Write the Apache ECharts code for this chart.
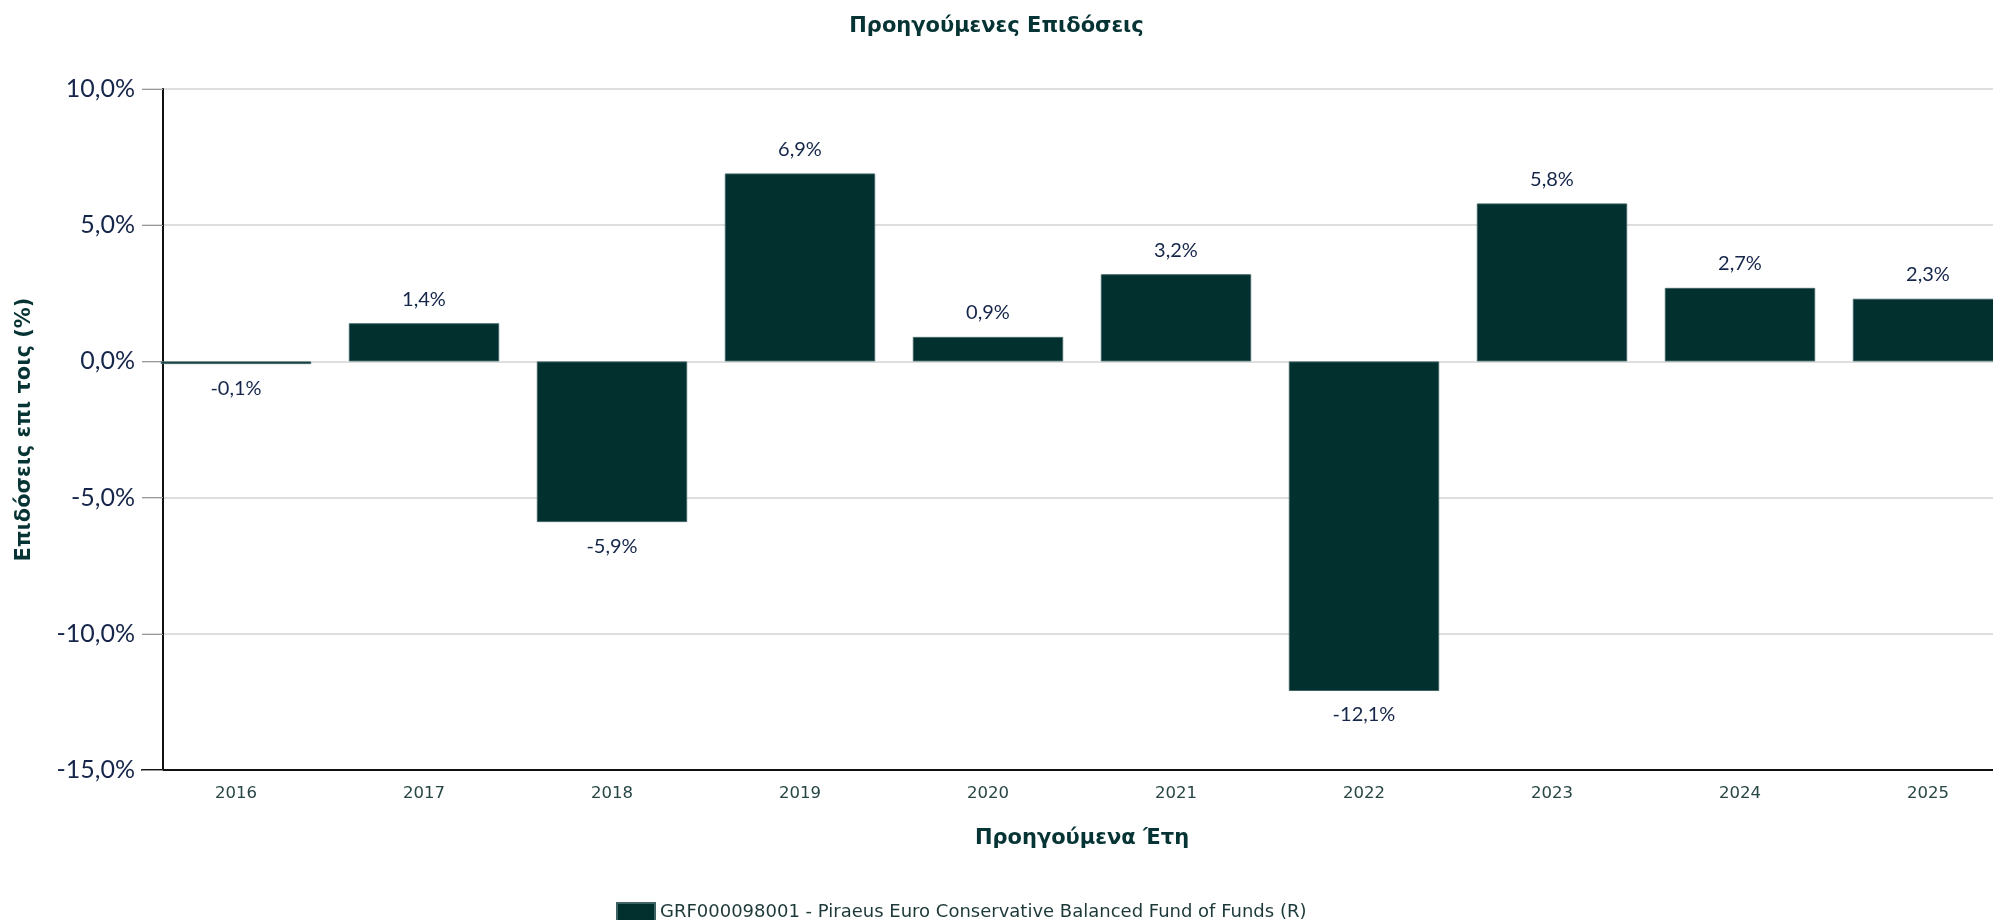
<!DOCTYPE html>
<html>
<head>
<meta charset="utf-8">
<script src="https://cdn.jsdelivr.net/npm/echarts@6/dist/echarts.min.js"></script>
<style>
  html, body { margin: 0; padding: 0; background: #fff; }
  #chart { width: 1993px; height: 920px; }
</style>
</head>
<body>
<div id="chart"></div>
<script>
// data
const years = ['2016', '2017', '2018', '2019', '2020', '2021', '2022', '2023', '2024', '2025'];
const returns = [-0.1, 1.4, -5.9, 6.9, 0.9, 3.2, -12.1, 5.8, 2.7, 2.3];
const seriesName = 'GRF000098001 - Piraeus Euro Conservative Balanced Fund of Funds (R)';

const barColor = '#02302f';
const darkTeal = '#063333';
const navy = '#16264a';

function pct(v) {
    return v.toFixed(1).replace('.', ',') + '%';
}

const chart = echarts.init(document.querySelector('#chart'));
chart.setOption({
    animation: false,
    title: {
        text: 'Προηγούμενες Επιδόσεις',
        left: 'center',
        top: 11,
        textStyle: {
            fontFamily: 'DejaVu Sans',
            fontWeight: 'bold',
            fontSize: 21,
            color: darkTeal
        }
    },
    legend: {
        left: 611,
        top: 897,
        itemWidth: 38,
        itemHeight: 19,
        icon: 'rect',
        textStyle: {
            fontFamily: 'DejaVu Sans',
            fontSize: 18,
            color: '#1c3838'
        },
        data: [seriesName]
    },
    grid: {
        left: 142,
        right: -29,
        top: 89,
        bottom: 150,
        containLabel: false,
        outerBoundsMode: 'none'
    },
    xAxis: {
        type: 'category',
        data: years,
        name: 'Προηγούμενα Έτη',
        nameLocation: 'middle',
        nameGap: 58,
        nameTextStyle: {
            fontFamily: 'DejaVu Sans',
            fontWeight: 'bold',
            fontSize: 21,
            color: darkTeal
        },
        axisLine: { onZero: false, lineStyle: { color: '#111', width: 2 } },
        axisTick: { alignWithLabel: true, length: 10, lineStyle: { color: '#999' } },
        axisLabel: {
            margin: 15,
            fontFamily: 'DejaVu Sans',
            fontSize: 16.5,
            color: '#274545'
        }
    },
    yAxis: {
        type: 'value',
        min: -15,
        max: 10,
        interval: 5,
        offset: -21,
        name: 'Επιδόσεις επι τοις (%)',
        nameLocation: 'middle',
        nameGap: 128,
        nameTextStyle: {
            fontFamily: 'DejaVu Sans',
            fontWeight: 'bold',
            fontSize: 21,
            color: darkTeal
        },
        axisLine: { show: true, lineStyle: { color: '#111', width: 2 } },
        axisTick: { show: true, length: 21, lineStyle: { color: '#999' } },
        axisLabel: {
            margin: 28,
            fontFamily: 'Liberation Sans Narrow, Lato, sans-serif',
            fontSize: 25,
            color: navy,
            formatter: v => pct(v)
        },
        splitLine: { lineStyle: { color: '#dedede', width: 2 } }
    },
    series: [{
        name: seriesName,
        type: 'bar',
        barCategoryGap: '20%',
        itemStyle: { color: barColor, borderColor: '#3f6363', borderWidth: 1 },
        label: {
            show: true,
            distance: 14,
            fontFamily: 'Liberation Sans Narrow, Lato, sans-serif',
            fontSize: 20,
            color: navy,
            formatter: p => pct(p.value)
        },
        data: returns.map(v => ({
            value: v,
            label: { position: v < 0 ? 'bottom' : 'top' }
        }))
    }]
});
</script>
</body>
</html>
